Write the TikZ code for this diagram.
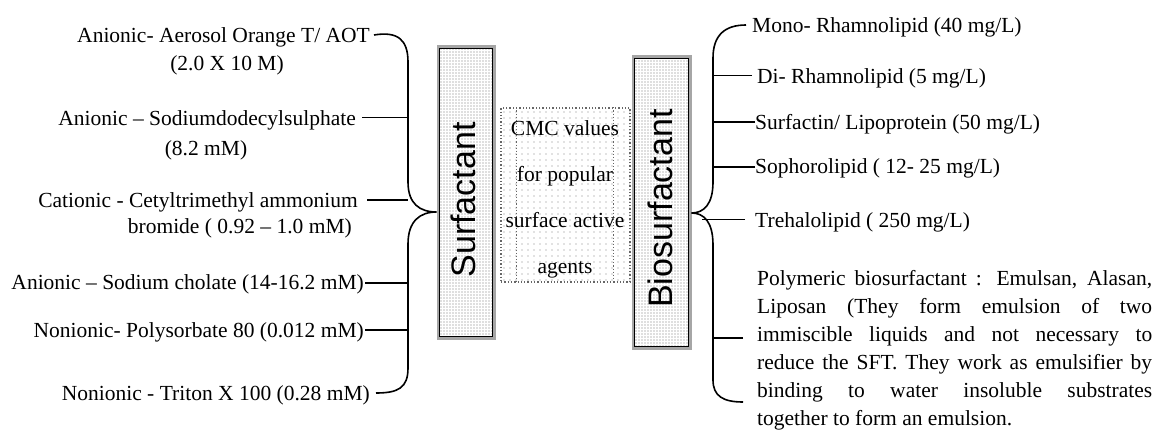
\documentclass[tikz,border=0pt]{standalone}
\usepackage{fontspec}
\setmainfont{Liberation Serif}
\setsansfont{Liberation Sans}
\usetikzlibrary{patterns.meta}
\begin{document}
\begin{tikzpicture}[x=1pt,y=-1pt,
  lbl/.style={inner sep=0pt, text height=14.5pt, text depth=0pt, font=\fontsize{21.5}{28}\selectfont},
  brk/.style={line width=1.6pt},
  thinln/.style={line width=1pt},
  thickln/.style={line width=2pt},
  midln/.style={line width=1.5pt},
  boxnode/.style={draw=gray!70, line width=3pt, minimum width=56pt, inner sep=0pt,
    pattern={Dots[distance=3pt,radius=0.7pt]}, pattern color=black!55},
  boxlabel/.style={rotate=90, inner sep=0pt, font=\sffamily\fontsize{34}{34}\selectfont},
  cmcbox/.style={draw=gray!80!black, dotted, line width=1.3pt, inner sep=0pt,
    pattern={Dots[distance=6pt,radius=0.7pt]}, pattern color=black!50},
]
\useasboundingbox (0,0) rectangle (1156,430);

% ---------- boxes ----------
\node[boxnode, minimum height=291pt] (surf) at (466,192.5) {};
\draw[line width=1.4pt] ([shift={(3.2,3.2)}]surf.north west) rectangle ([shift={(-3.2,-3.2)}]surf.south east);
\node[boxlabel] (surflbl) at (463.5,200) {Surfactant};

\node[boxnode, minimum height=291pt, minimum width=57pt] (bio) at (661.5,202.5) {};
\draw[line width=1.4pt] ([shift={(3.2,3.2)}]bio.north west) rectangle ([shift={(-3.2,-3.2)}]bio.south east);
\node[boxlabel] (biolbl) at (660,208.5) {Biosurfactant};

\node[cmcbox, minimum width=129pt, minimum height=174pt] (cmc) at (565.5,195) {};
\draw[gray!80!black, dotted, line width=1.1pt] (cmc.north west) ++(16.5,0) coordinate (ci1) -- (ci1 |- cmc.south);
\draw[gray!80!black, dotted, line width=1.1pt] (cmc.north east) ++(-17,0) coordinate (ci2) -- (ci2 |- cmc.south);
\node[align=center, inner sep=0pt, font=\fontsize{21.5}{46}\selectfont] (cmctext) at (565,199)
  {CMC values\\for popular\\surface active\\agents};

% ---------- left texts ----------
\node[lbl, anchor=east] (l1a) at (370,35) {Anionic- Aerosol Orange T/ AOT};
\node[lbl] (l1b) at (227,63) {(2.0 X 10 M)};
\node[lbl, anchor=east] (l2a) at (356,118) {Anionic – Sodiumdodecylsulphate};
\node[lbl] (l2b) at (206,148) {(8.2 mM)};
\node[lbl, anchor=east] (l3a) at (358,200) {Cationic - Cetyltrimethyl ammonium};
\node[lbl, anchor=east] (l3b) at (352,226) {bromide ( 0.92 – 1.0 mM)};
\node[lbl, anchor=east] (l4) at (364,282) {Anionic – Sodium cholate (14-16.2 mM)};
\node[lbl, anchor=east] (l5) at (364,330) {Nonionic- Polysorbate 80 (0.012 mM)};
\node[lbl, anchor=east] (l6) at (370,393) {Nonionic - Triton X 100 (0.28 mM)};

% left bracket
\coordinate (bL) at (408,0);
\coordinate (tipL) at (surf.west |- 0,212);
\draw[brk] ([xshift=4pt]l1a.east) .. controls (398,31) and (408,40) .. (408,62)
  -- (408,182) .. controls (408,204) and (420,212) .. (tipL)
  .. controls (420,212) and (408,221) .. (408,244)
  -- (408,368) .. controls (408,388) and (398,393) .. ([xshift=6pt]l6.east);
\draw[thinln, shorten <=6pt] (l2a.east) -- (l2a.east -| bL);
\draw[thickln, shorten <=9pt] (l3a.east) -- (l3a.east -| bL);
\draw[midln, shorten <=1pt] ([yshift=-1pt]l4.east) -- ([yshift=-1pt]l4.east -| bL);
\draw[thickln, shorten <=1pt] (l5.east) -- (l5.east -| bL);

% ---------- right texts ----------
\node[lbl, anchor=west] (r1) at (752,25) {Mono- Rhamnolipid (40 mg/L)};
\node[lbl, anchor=west] (r2) at (757,76) {Di- Rhamnolipid (5 mg/L)};
\node[lbl, anchor=west] (r3) at (755,122) {Surfactin/ Lipoprotein (50 mg/L)};
\node[lbl, anchor=west] (r4) at (755,166) {Sophorolipid ( 12- 25 mg/L)};
\node[lbl, anchor=west] (r5) at (755,220) {Trehalolipid ( 250 mg/L)};
\node[lbl, anchor=west] (p1) at (757,278) {\makebox[395pt][s]{Polymeric biosurfactant : Emulsan, Alasan,}};
\node[lbl, anchor=west] (p2) at (757,306) {\makebox[395pt][s]{Liposan (They form emulsion of two}};
\node[lbl, anchor=west] (p3) at (757,334) {\makebox[395pt][s]{immiscible liquids and not necessary to}};
\node[lbl, anchor=west] (p4) at (757,362) {\makebox[395pt][s]{reduce the SFT. They work as emulsifier by}};
\node[lbl, anchor=west] (p5) at (757,390) {\makebox[395pt][s]{binding to water insoluble substrates}};
\node[lbl, anchor=west] (p6) at (757,418) {together to form an emulsion.};

% right bracket
\coordinate (bR) at (713,0);
\coordinate (tipR) at (bio.east |- 0,213);
\coordinate (rb) at (743,402);
\draw[brk] ([xshift=-6pt]r1.west) .. controls (725,25) and (713,35) .. (713,58)
  -- (713,182) .. controls (713,204) and (704,213) .. (tipR)
  .. controls (704,213) and (713,222) .. (713,245)
  -- (713,380) .. controls (713,396) and (723,402) .. (rb);
\draw[thinln, shorten <=5pt] (r2.west) -- (r2.west -| bR);
\draw[thickln] (r3.west) -- (r3.west -| bR);
\draw[midln] ([yshift=-1pt]r4.west) -- ([yshift=-1pt]r4.west -| bR);
\draw[thinln, shorten <=10pt] (r5.west) -- ([xshift=-11pt]r5.west -| bR);
\draw[midln, shorten <=14pt] ([yshift=-4pt]p3.west) -- ([yshift=-4pt]p3.west -| bR);
\end{tikzpicture}
\end{document}
